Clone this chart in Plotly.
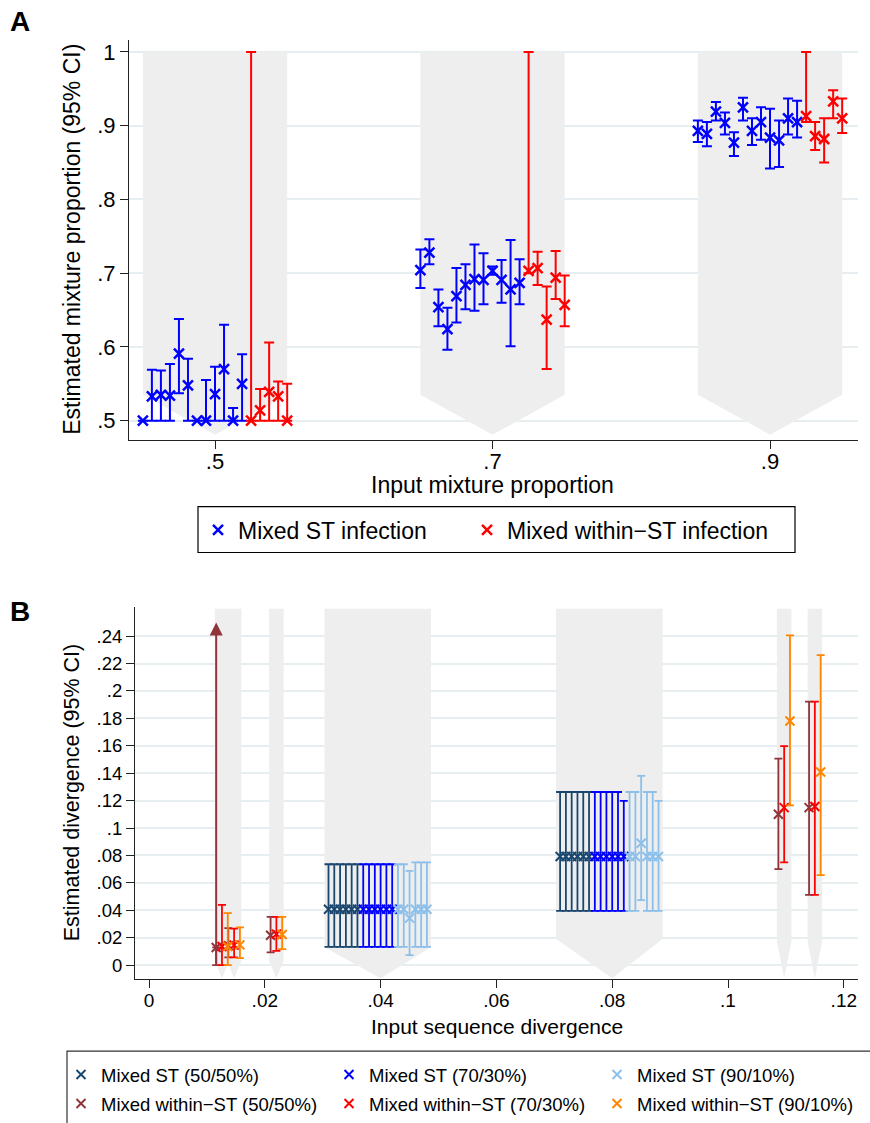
import plotly.graph_objects as go
import numpy as np

W, H = 870, 1123
FONT = "Liberation Sans, Arial, Helvetica, sans-serif"

# ---------------- Panel A data ----------------
a_inputs = [0.5, 0.7, 0.9]
a_tickvals_x = [0.5, 0.7, 0.9]
a_ticktext_x = [".5", ".7", ".9"]
a_tickvals_y = [0.5, 0.6, 0.7, 0.8, 0.9, 1.0]
a_ticktext_y = [".5", ".6", ".7", ".8", ".9", "1"]

# Mixed ST infection (12 runs per input)
a_st_est_50 = [0.500, 0.533, 0.535, 0.534, 0.591, 0.548, 0.500, 0.500, 0.536, 0.570, 0.500, 0.550]
a_st_hi_50 = [0.500, 0.569, 0.568, 0.577, 0.638, 0.584, 0.500, 0.555, 0.573, 0.630, 0.517, 0.590]
a_st_lo_50 = [0.500, 0.500, 0.500, 0.500, 0.537, 0.500, 0.500, 0.500, 0.500, 0.500, 0.500, 0.500]
a_st_est_70 = [0.704, 0.728, 0.654, 0.624, 0.669, 0.684, 0.692, 0.691, 0.703, 0.691, 0.678, 0.687]
a_st_hi_70 = [0.732, 0.746, 0.678, 0.653, 0.707, 0.712, 0.739, 0.727, 0.709, 0.718, 0.745, 0.719]
a_st_lo_70 = [0.680, 0.712, 0.628, 0.596, 0.633, 0.651, 0.649, 0.658, 0.698, 0.660, 0.601, 0.658]
a_st_est_90 = [0.893, 0.889, 0.919, 0.904, 0.877, 0.925, 0.893, 0.905, 0.884, 0.880, 0.910, 0.905]
a_st_hi_90 = [0.907, 0.905, 0.932, 0.918, 0.891, 0.938, 0.910, 0.925, 0.923, 0.907, 0.937, 0.934]
a_st_lo_90 = [0.878, 0.872, 0.907, 0.888, 0.859, 0.907, 0.874, 0.881, 0.842, 0.844, 0.888, 0.884]

# Mixed within-ST infection (5 runs per input)
a_ws_est_50 = [0.500, 0.514, 0.539, 0.533, 0.500]
a_ws_hi_50 = [1.000, 0.543, 0.606, 0.553, 0.550]
a_ws_lo_50 = [0.500, 0.500, 0.500, 0.500, 0.500]
a_ws_est_70 = [0.703, 0.707, 0.637, 0.694, 0.657]
a_ws_hi_70 = [1.000, 0.729, 0.682, 0.730, 0.697]
a_ws_lo_70 = [0.700, 0.684, 0.570, 0.665, 0.628]
a_ws_est_90 = [0.913, 0.886, 0.882, 0.933, 0.910]
a_ws_hi_90 = [1.000, 0.905, 0.910, 0.948, 0.937]
a_ws_lo_90 = [0.905, 0.867, 0.850, 0.910, 0.890]

# ---------------- Panel B data ----------------
b_tickvals_x = [0, 0.02, 0.04, 0.06, 0.08, 0.1, 0.12]
b_ticktext_x = ["0", ".02", ".04", ".06", ".08", ".1", ".12"]
b_tickvals_y = [0, 0.02, 0.04, 0.06, 0.08, 0.1, 0.12, 0.14, 0.16, 0.18, 0.2, 0.22, 0.24]
b_ticktext_y = ["0", ".02", ".04", ".06", ".08", ".1", ".12", ".14", ".16", ".18", ".2", ".22", ".24"]

b_st_inputs = [0.04, 0.08]
# Mixed ST, 6 runs per input divergence (first 6 at .04, next 6 at .08)
b_st_est_5050 = [0.0408, 0.0408, 0.0408, 0.0408, 0.0408, 0.0408, 0.0792, 0.0792, 0.0792, 0.0792, 0.0792, 0.0792]
b_st_hi_5050 = [0.0736, 0.0736, 0.0736, 0.0736, 0.0736, 0.0736, 0.1263, 0.1263, 0.1263, 0.1263, 0.1263, 0.1263]
b_st_lo_5050 = [0.0133, 0.0133, 0.0133, 0.0133, 0.0133, 0.0133, 0.0396, 0.0396, 0.0396, 0.0396, 0.0396, 0.0396]
b_st_est_7030 = [0.0408, 0.0408, 0.0408, 0.0408, 0.0408, 0.0408, 0.0792, 0.0792, 0.0792, 0.0792, 0.0792, 0.0792]
b_st_hi_7030 = [0.0736, 0.0736, 0.0736, 0.0736, 0.0736, 0.0736, 0.1263, 0.1263, 0.1263, 0.1263, 0.1263, 0.1198]
b_st_lo_7030 = [0.0133, 0.0133, 0.0133, 0.0133, 0.0133, 0.0133, 0.0396, 0.0396, 0.0396, 0.0396, 0.0396, 0.0396]
b_st_est_9010 = [0.0408, 0.0408, 0.0343, 0.0408, 0.0408, 0.0408, 0.0792, 0.0792, 0.0889, 0.0792, 0.0792, 0.0792]
b_st_hi_9010 = [0.0736, 0.0736, 0.0687, 0.0749, 0.0749, 0.0749, 0.1263, 0.1263, 0.1380, 0.1263, 0.1263, 0.1198]
b_st_lo_9010 = [0.0133, 0.0133, 0.0073, 0.0133, 0.0133, 0.0133, 0.0396, 0.0396, 0.0474, 0.0396, 0.0396, 0.0396]

b_ws_inputs = [0.0126, 0.0147, 0.022, 0.1097, 0.115]
b_ws_est_5050 = [0.0129, 0.0141, 0.0218, 0.1101, 0.1149]
b_ws_hi_5050 = [np.nan, 0.0270, 0.0352, 0.1507, 0.1922]   # first upper limit off the scale (arrow)
b_ws_lo_5050 = [0.0000, 0.0056, 0.0093, 0.0700, 0.0512]
b_ws_est_7030 = [0.0136, 0.0146, 0.0226, 0.1149, 0.1157]
b_ws_hi_7030 = [0.0440, 0.0267, 0.0352, 0.1598, 0.1922]
b_ws_lo_7030 = [0.0000, 0.0056, 0.0104, 0.0749, 0.0512]
b_ws_est_9010 = [0.0136, 0.0148, 0.0223, 0.1781, 0.1409]
b_ws_hi_9010 = [0.0379, 0.0275, 0.0352, 0.2405, 0.2262]
b_ws_lo_9010 = [0.0000, 0.0051, 0.0117, 0.1166, 0.0656]

# ---------------- styling ----------------
BLUE, RED = "#0000ff", "#ff0000"
NAVY, LTBLUE = "#1a476f", "#8cc0ea"
CRAN, ORANGE = "#90353b", "#ff8400"
BAND = "#eeeeee"
GRID = "#e6eef1"

def px_x(p):
    return p / W

def px_y(p):
    return 1 - p / H

fig = go.Figure()

# ---------------- Panel A bands ----------------
a_step = 0.0065
a_ymin, a_ymax = 0.4743, 1.0163
for xin in a_inputs:
    x0, x1 = xin - 8 * a_step, xin + 8 * a_step
    top, sh, tip = 1.0, 0.535, 0.481
    fig.add_trace(go.Scatter(x=[x0, x1, x1, xin, x0, x0], y=[top, top, sh, tip, sh, top],
                             fill="toself", fillcolor=BAND, line=dict(width=0), mode="lines",
                             hoverinfo="skip", showlegend=False, xaxis="x", yaxis="y"))

def a_series(est_lists, hi_lists, lo_lists, idx0):
    xs, ys, up, dn = [], [], [], []
    for xin, est, hi, lo in zip(a_inputs, est_lists, hi_lists, lo_lists):
        for k, (e, h, l) in enumerate(zip(est, hi, lo)):
            xs.append(xin + (idx0 + k - 8) * a_step)
            ys.append(e)
            up.append(h - e)
            dn.append(e - l)
    return xs, ys, up, dn

xs, ys, up, dn = a_series([a_st_est_50, a_st_est_70, a_st_est_90],
                          [a_st_hi_50, a_st_hi_70, a_st_hi_90],
                          [a_st_lo_50, a_st_lo_70, a_st_lo_90], 0)
fig.add_trace(go.Scatter(x=xs, y=ys, mode="markers", name="Mixed ST infection",
                         marker=dict(symbol="x-thin", size=10, line=dict(width=2.5, color=BLUE), color=BLUE),
                         error_y=dict(type="data", symmetric=False, array=up, arrayminus=dn,
                                      color=BLUE, thickness=2, width=5),
                         xaxis="x", yaxis="y", legend="legend"))
xs, ys, up, dn = a_series([a_ws_est_50, a_ws_est_70, a_ws_est_90],
                          [a_ws_hi_50, a_ws_hi_70, a_ws_hi_90],
                          [a_ws_lo_50, a_ws_lo_70, a_ws_lo_90], 12)
fig.add_trace(go.Scatter(x=xs, y=ys, mode="markers", name="Mixed within\u2212ST infection",
                         marker=dict(symbol="x-thin", size=10, line=dict(width=2.5, color=RED), color=RED),
                         error_y=dict(type="data", symmetric=False, array=up, arrayminus=dn,
                                      color=RED, thickness=2, width=5),
                         xaxis="x", yaxis="y", legend="legend4"))

# ---------------- Panel B bands ----------------
b_step = 0.001
b_st_shoulder = [0.013, 0.019]
b_ws_shoulder = [0.003, 0.003, 0.003, 0.017, 0.017]
b_tip = -0.0095
b_top = 0.26
for xin, sh in zip(b_st_inputs, b_st_shoulder):
    x0, x1 = xin - 9 * b_step - 0.0007, xin + 8 * b_step + 0.0007
    fig.add_trace(go.Scatter(x=[x0, x1, x1, xin, x0, x0], y=[b_top, b_top, sh, b_tip, sh, b_top],
                             fill="toself", fillcolor=BAND, line=dict(width=0), mode="lines",
                             hoverinfo="skip", showlegend=False, xaxis="x2", yaxis="y2"))
for xin, sh in zip(b_ws_inputs, b_ws_shoulder):
    x0, x1 = xin - b_step - 0.00025, xin + b_step + 0.00025
    fig.add_trace(go.Scatter(x=[x0, x1, x1, xin, x0, x0], y=[b_top, b_top, sh, b_tip, sh, b_top],
                             fill="toself", fillcolor=BAND, line=dict(width=0), mode="lines",
                             hoverinfo="skip", showlegend=False, xaxis="x2", yaxis="y2"))

def b_trace(x, est, hi, lo, color, name, legend):
    up = [h - e for h, e in zip(hi, est)]
    dn = [e - l for e, l in zip(est, lo)]
    return go.Scatter(x=x, y=est, mode="markers", name=name,
                      marker=dict(symbol="x-thin", size=9, line=dict(width=2, color=color), color=color),
                      error_y=dict(type="data", symmetric=False, array=up, arrayminus=dn,
                                   color=color, thickness=1.8, width=4),
                      xaxis="x2", yaxis="y2", legend=legend)

def st_x(p):
    return [xin + (6 * p + r - 9) * b_step for xin in b_st_inputs for r in range(6)]

def ws_x(p):
    return [xin + (p - 1) * b_step for xin in b_ws_inputs]

fig.add_trace(b_trace(st_x(0), b_st_est_5050, b_st_hi_5050, b_st_lo_5050, NAVY, "Mixed ST (50/50%)", "legend2"))
fig.add_trace(b_trace(st_x(1), b_st_est_7030, b_st_hi_7030, b_st_lo_7030, BLUE, "Mixed ST (70/30%)", "legend2"))
fig.add_trace(b_trace(st_x(2), b_st_est_9010, b_st_hi_9010, b_st_lo_9010, LTBLUE, "Mixed ST (90/10%)", "legend2"))
fig.add_trace(b_trace(ws_x(0), b_ws_est_5050, b_ws_hi_5050, b_ws_lo_5050, CRAN, "Mixed within\u2212ST (50/50%)", "legend3"))
fig.add_trace(b_trace(ws_x(1), b_ws_est_7030, b_ws_hi_7030, b_ws_lo_7030, RED, "Mixed within\u2212ST (70/30%)", "legend3"))
fig.add_trace(b_trace(ws_x(2), b_ws_est_9010, b_ws_hi_9010, b_ws_lo_9010, ORANGE, "Mixed within\u2212ST (90/10%)", "legend3"))

annotations = []
# arrow for the off-scale upper limit
xa = ws_x(0)[0]
annotations.append(dict(x=xa, y=0.25, ax=xa, ay=b_ws_lo_5050[0], xref="x2", yref="y2",
                        axref="x2", ayref="y2", text="", showarrow=True, arrowhead=2,
                        arrowsize=1.3, arrowwidth=2, arrowcolor=CRAN))

# panel letters
annotations.append(dict(text="<b>A</b>", x=px_x(8), y=px_y(22), xref="paper", yref="paper",
                        xanchor="left", yanchor="middle", showarrow=False, font=dict(size=28, color="black")))
annotations.append(dict(text="<b>B</b>", x=px_x(8), y=px_y(612), xref="paper", yref="paper",
                        xanchor="left", yanchor="middle", showarrow=False, font=dict(size=28, color="black")))
# axis titles
annotations.append(dict(text="Estimated mixture proportion (95% CI)", x=px_x(72), y=px_y(240),
                        xref="paper", yref="paper", textangle=-90, showarrow=False,
                        xanchor="center", yanchor="middle", font=dict(size=23, color="black")))
annotations.append(dict(text="Input mixture proportion", x=px_x(492), y=px_y(485),
                        xref="paper", yref="paper", showarrow=False,
                        xanchor="center", yanchor="middle", font=dict(size=23, color="black")))
annotations.append(dict(text="Estimated divergence (95% CI)", x=px_x(72), y=px_y(793),
                        xref="paper", yref="paper", textangle=-90, showarrow=False,
                        xanchor="center", yanchor="middle", font=dict(size=21.5, color="black")))
annotations.append(dict(text="Input sequence divergence", x=px_x(497), y=px_y(1027),
                        xref="paper", yref="paper", showarrow=False,
                        xanchor="center", yanchor="middle", font=dict(size=21, color="black")))

shapes = [
    dict(type="rect", xref="paper", yref="paper", x0=px_x(198), x1=px_x(795), y0=px_y(553), y1=px_y(507),
         line=dict(color="black", width=1.2), fillcolor="rgba(0,0,0,0)"),
    dict(type="rect", xref="paper", yref="paper", x0=px_x(67), x1=px_x(900), y0=px_y(1140), y1=px_y(1052),
         line=dict(color="#333333", width=1.2), fillcolor="rgba(0,0,0,0)"),
]

axis_common = dict(showline=True, linecolor="#222222", linewidth=1, ticks="outside", ticklen=8,
                   tickcolor="#222222", tickwidth=1, zeroline=False)

leg_common = dict(orientation="h", xanchor="left", yanchor="middle",
                  bgcolor="rgba(0,0,0,0)", borderwidth=0)

fig.update_layout(
    width=W, height=H, margin=dict(l=0, r=0, t=0, b=0),
    paper_bgcolor="white", plot_bgcolor="white",
    font=dict(family=FONT, color="black"),
    xaxis=dict(domain=[px_x(129), px_x(858)], range=[0.438, 0.9634], anchor="y",
               tickvals=a_tickvals_x, ticktext=a_ticktext_x, showgrid=False,
               tickfont=dict(size=22, color="black"), ticklabelstandoff=-6, **axis_common),
    yaxis=dict(domain=[px_y(440), px_y(40)], range=[a_ymin, a_ymax], anchor="x",
               tickvals=a_tickvals_y, ticktext=a_ticktext_y, showgrid=True, gridcolor=GRID, gridwidth=1.5,
               tickfont=dict(size=22, color="black"), **axis_common),
    xaxis2=dict(domain=[px_x(135), px_x(858)], range=[-0.00242, 0.12245], anchor="y2",
                tickvals=b_tickvals_x, ticktext=b_ticktext_x, showgrid=False,
                tickfont=dict(size=19, color="black"), ticklabelstandoff=-4, **axis_common),
    yaxis2=dict(domain=[px_y(980), px_y(608)], range=[-0.0102, 0.2609], anchor="x2",
                tickvals=b_tickvals_y, ticktext=b_ticktext_y, showgrid=True, gridcolor=GRID, gridwidth=1.5,
                tickfont=dict(size=18.5, color="black"), **axis_common),
    legend=dict(x=px_x(198), y=px_y(530), font=dict(size=23, color="black"), **leg_common),
    legend4=dict(x=px_x(467), y=px_y(530), font=dict(size=23, color="black"), **leg_common),
    legend2=dict(x=px_x(61), y=px_y(1075), font=dict(size=18.5, color="black"),
                 entrywidth=223, entrywidthmode="pixels", **leg_common),
    legend3=dict(x=px_x(61), y=px_y(1105), font=dict(size=18.5, color="black"),
                 entrywidth=223, entrywidthmode="pixels", **leg_common),
    annotations=annotations,
    shapes=shapes,
)

fig.write_html("out.html", config={"displayModeBar": False},
               post_script="document.body.style.margin='0px';document.body.style.padding='0px';")
